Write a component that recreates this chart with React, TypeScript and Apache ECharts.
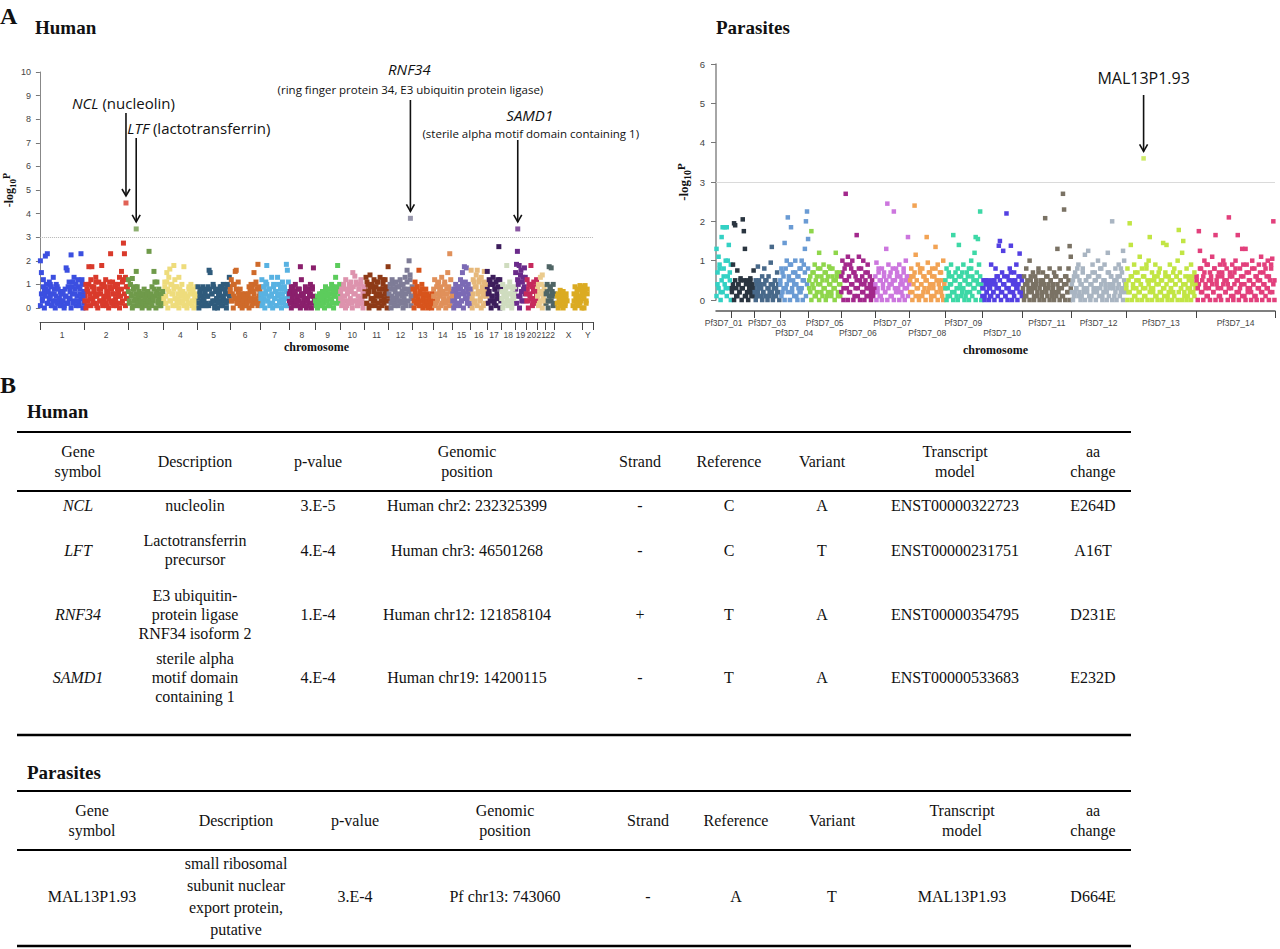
import React, { useEffect, useRef } from "react";
import * as echarts from "echarts";

// ---------------- Human Manhattan data ----------------
const humanChromosomes = ["1","2","3","4","5","6","7","8","9","10","11","12","13","14","15","16","17","18","19","20","21","22","X","Y"];
const humanLengthsMb = [249,243,198,191,181,171,159,146,141,136,135,134,115,107,103,90,81,78,59,63,48,51,155,59];
const humanColors = ["#3b4fe0","#d93a2b","#6f9a4a","#eedc7c","#2f5b7c","#cf6a2a","#58b2e2","#8a1f6c","#5ccc5c","#dd93ad","#8e3a16","#7e7c97","#d8541c","#e0905a","#7b6ab5","#e6b87a","#3d1d5c","#cfdcbf","#6b2b8b","#c62a5c","#ebcb8e","#4f6565","#dbab22","#dbab22"];

// SNPs in genomic order (upper part of each chromosome column)
const hChr1 = [2.0,1.5,0.4,1.2,0.7,2.2,1.0,2.3,0.2,1.1,0.5,0.9,0.1,1.3,0.6,0.3,1.0,0.2,0.8,0.4,0.1,0.6,0.3,0.7,0.1,0.5,1.7,1.6,0.2,1.1,0.4,2.25,0.9,0.2,1.3,0.6,1.0,0.3,1.2,0.1,0.8,2.3,1.2,0.5,0.2];
const hChr2 = [0.3,1.0,0.1,0.7,1.75,0.4,1.2,1.75,0.2,0.9,0.5,1.3,0.1,0.6,1.1,0.3,0.8,1.8,0.2,1.0,0.5,1.2,0.1,0.7,0.4,0.9,2.3,0.2,1.1,0.6,0.3,1.0,0.1,0.8,0.5,1.3,0.2,1.55,1.1,2.75,2.3,1.3,0.4,0.9];
const hChr3 = [1.2,0.3,1.0,0.6,1.25,0.1,0.8,0.4,1.55,0.9,0.2,0.5,0.1,0.3,0.6,0.2,0.8,0.4,0.1,0.7,0.3,2.4,0.5,0.2,0.9,0.4,1.55,1.1,0.6,1.1,0.3,0.8,0.1,0.5,0.2,0.7];
const hChr4 = [0.4,1.1,0.2,1.5,0.8,1.3,1.65,0.3,1.0,0.6,1.8,1.2,0.1,0.9,0.4,1.3,0.2,0.7,1.0,0.3,1.75,0.5,0.1,0.4,0.2,0.9,0.6,1.0,0.1,0.8,0.3,0.5,0.9,0.2];
const hChr5 = [0.9,0.2,0.6,0.1,0.8,0.4,0.3,0.7,0.1,0.5,0.9,1.6,1.5,0.2,0.6,1.0,0.3,0.1,0.8,0.4,0.2,0.6,0.9,0.1,0.5,1.0,0.3,0.7,0.2,1.0,0.6,1.3];
const hChr6 = [0.7,1.2,0.3,1.0,0.5,1.55,1.6,0.2,1.1,0.4,0.8,0.1,0.6,0.3,0.5,0.1,0.4,0.2,0.6,0.9,0.3,1.0,0.1,0.7,1.5,0.4,1.1,0.2,1.85,0.9,0.3];
const hChr7 = [0.4,1.2,0.2,0.9,0.6,1.1,1.8,0.3,0.8,0.1,0.5,1.3,0.2,1.0,0.4,0.7,0.1,1.3,0.6,0.2,0.9,0.4,1.1,0.3,0.8,0.1,1.85,1.6,0.5];
const hChr8 = [0.6,0.2,0.9,0.4,0.1,0.7,1.0,0.3,0.5,0.1,0.8,1.75,1.2,0.2,0.6,0.4,0.9,0.1,0.3,0.7,0.5,1.0,0.2,0.8,1.7,0.4];
const hChr9 = [0.3,0.1,0.5,0.2,0.6,0.1,0.4,0.7,0.2,0.5,0.9,0.3,0.6,0.1,0.8,0.4,1.0,0.2,0.7,0.5,1.3,0.9,1.8,0.3,1.0];
const hChr10 = [0.4,0.8,0.2,1.0,0.5,1.2,0.1,0.7,0.3,0.9,1.1,0.2,1.5,0.6,1.35,0.3,1.0,0.1,0.8,0.4,1.2,0.2,0.6,0.9];
const hChr11 = [0.5,1.3,0.2,1.0,0.7,1.4,0.1,0.9,0.4,1.2,0.3,0.6,1.1,0.2,0.8,1.3,0.5,0.1,1.0,0.4,1.2,0.7,0.3,1.75];
const hChr12 = [0.6,1.0,0.2,1.2,0.4,0.8,0.1,1.1,0.5,0.3,0.9,1.2,0.2,0.7,1.0,0.4,1.3,0.1,1.6,0.8,2.0,1.4,0.5,0.9];
const hChr13 = [0.8,0.3,1.1,0.5,0.9,0.2,1.6,0.7,0.1,1.0,0.4,0.6,0.2,0.8,0.3,0.5,0.1,0.4,0.2,0.6,0.3];
const hChr14 = [0.5,1.2,0.2,0.9,0.4,1.1,0.7,0.1,1.3,0.6,0.3,1.0,0.2,0.8,1.5,0.4,2.3,1.2,0.5];
const hChr15 = [0.3,0.8,0.1,1.0,0.5,0.2,0.9,0.6,1.2,0.3,1.5,0.7,1.75,1.1,1.7,0.4,1.0,0.2,0.8];
const hChr16 = [1.6,0.4,1.2,0.2,0.9,1.4,1.6,0.6,1.1,0.3,1.3,0.7,0.1,1.55,1.0,0.5];
const hChr17 = [1.55,0.6,1.2,0.3,1.0,0.5,1.3,0.2,0.8,1.1,0.4,0.9,2.6,1.2,0.3];
const hChr18 = [0.4,1.0,0.2,0.7,0.5,1.8,0.9,0.3,1.1,0.6,0.1,0.8,0.4,0.9];
const hChr19 = [1.5,1.85,2.4,1.0,1.8,0.5,1.6,0.3,1.3,0.8,1.7,0.6];
const hChr20 = [0.6,1.2,0.3,1.0,0.5,1.8,0.9,0.2,1.1,0.7,0.4,1.2];
const hChr21 = [0.5,1.0,0.2,1.3,0.7,1.4,0.4,0.9,0.3];
const hChr22 = [0.6,1.0,0.3,1.75,0.8,1.7,0.5,1.0,0.2];
const hChrX = [null,null,0.2,0.6,0.3,0.75,0.1,0.5,0.7,0.4,0.2,0.6,0.3,null,null,null,null,null,0.1,0.3,0.9,0.5,0.2,0.8,0.4,0.95,0.3,0.7];
const hChrY = [0.9,0.4,0.95,0.2,0.6,null,null,null,null,null];
const humanValues: (number | null)[][] = [hChr1,hChr2,hChr3,hChr4,hChr5,hChr6,hChr7,hChr8,hChr9,hChr10,hChr11,hChr12,hChr13,hChr14,hChr15,hChr16,hChr17,hChr18,hChr19,hChr20,hChr21,hChr22,hChrX,hChrY];

// further SNPs in genomic order (dense lower part of each column)
const hB1 = [0.1,0.6,0.3,0.9,0.0,0.5,0.8,0.2,0.7,0.4,1.0,0.1,0.6,0.3,0.8,0.0,0.5,0.9,0.2,0.4,0.7,0.1,0.6,0.3,0.0,0.8,0.5,0.2,0.9,0.4,0.7,0.0,0.6,1.1,0.3,0.8,0.1,0.5,0.9,0.2,0.6,0.4,1.0,0.0,0.7];
const hB2 = [0.5,0.0,0.8,0.3,1.0,0.6,0.1,0.9,0.4,0.7,0.2,1.1,0.5,0.0,0.8,0.3,0.6,1.0,0.1,0.4,0.9,0.2,0.7,0.5,0.0,1.1,0.3,0.8,0.6,0.1,0.9,0.4,0.2,1.0,0.7,0.0,0.5,0.8,0.3,1.2,0.6,0.1,0.9,0.4];
const hB3 = [0.7,0.2,1.0,0.5,0.0,0.8,0.3,0.9,0.6,0.1,0.4,0.7,0.2,0.5,0.0,0.6,0.3,0.1,0.5,0.2,0.7,0.0,0.4,0.6,0.1,0.3,0.8,0.5,0.0,0.7,0.2,0.4,0.6,0.1,0.3,0.5];
const hB4 = [0.2,0.9,0.5,1.1,0.0,0.7,0.3,1.0,0.6,0.1,0.8,0.4,0.9,0.2,0.6,0.0,0.8,0.5,0.3,0.7,0.1,0.6,0.4,0.0,0.5,0.8,0.2,0.6,0.3,0.7,0.0,0.4,0.6,0.1];
const hB5 = [0.4,0.0,0.7,0.3,0.5,0.9,0.1,0.6,0.2,0.8,0.5,0.1,0.8,0.2,0.6,0.3,0.9,0.0,0.7,0.4,0.0,0.5,0.7,0.3,0.9,0.1,0.4,0.8,0.6,0.0,0.3,0.9,0.5];
const hB6 = [0.9,0.3,0.6,0.0,1.0,0.4,0.8,0.2,0.7,0.5,0.1,0.3,0.0,0.4,0.2,0.6,0.1,0.3,0.5,0.0,0.7,0.4,0.9,0.2,0.6,1.0,0.3,0.8,0.1,0.5,0.7];
const hB7 = [0.6,0.1,0.9,0.4,0.0,0.7,1.0,0.3,0.5,0.8,0.2,0.6,0.0,0.9,0.4,0.7,0.1,0.5,1.0,0.3,0.8,0.0,0.6,0.2,0.9,0.4,0.7,0.1,1.1];
const hB8 = [0.3,0.7,0.0,0.5,0.9,0.2,0.6,0.1,0.4,0.8,0.3,0.0,0.6,0.5,0.1,0.3,0.7,0.0,0.4,0.8,0.2,0.6,0.0,0.9,0.5,0.3];
const hB9 = [0.2,0.4,0.0,0.3,0.5,0.1,0.6,0.2,0.4,0.0,0.7,0.3,0.5,0.8,0.1,0.6,0.3,0.9,0.0,0.5,0.7,0.2,0.8,0.4,0.6];
const hB10 = [0.7,0.1,0.5,0.9,0.3,0.0,0.8,0.6,0.2,1.0,0.4,0.7,0.0,0.9,0.3,0.6,1.1,0.1,0.5,0.8,0.2,1.0,0.4,0.0,0.7];
const hB11 = [0.8,0.2,1.1,0.6,0.0,0.9,0.4,1.0,0.3,0.7,0.1,0.9,0.5,1.1,0.0,0.6,0.3,0.8,1.2,0.2,0.6,0.9,0.0,0.5];
const hB12 = [0.3,0.8,0.0,0.5,1.0,0.2,0.7,0.4,0.9,0.1,0.6,0.3,1.0,0.5,0.0,0.8,0.2,0.6,1.1,0.3,0.7,1.2,0.1,0.4];
const hB13 = [0.5,0.0,0.7,0.2,0.9,0.4,0.1,0.6,0.3,0.8,0.0,0.5,0.3,0.1,0.6,0.0,0.3,0.2,0.4,0.0,0.2];
const hB14 = [0.8,0.1,0.6,0.3,1.0,0.0,0.5,0.9,0.2,0.7,0.4,1.1,0.0,0.6,0.3,0.9,0.1,0.7,0.3];
const hB15 = [0.6,0.0,0.4,0.7,0.2,0.9,0.5,0.1,0.8,0.3,1.0,0.0,0.6,0.4,0.9,0.2,0.7,0.5,0.1];
const hB16 = [0.8,0.0,0.6,1.1,0.3,0.9,0.1,0.7,1.2,0.4,0.0,0.9,0.5,1.1,0.2,0.7];
const hB17 = [0.9,0.2,0.7,1.1,0.0,0.5,1.0,0.3,0.8,0.1,0.6,1.2,0.4,0.0,0.8];
const hB18 = [0.7,0.0,0.5,0.2,0.8,0.4,0.1,0.6,0.3,0.9,0.0,0.5,0.2,0.6];
const hB19 = [0.8,0.2,1.2,0.5,0.0,1.4,0.7,1.1,0.3,0.9,1.3];
const hB20 = [0.3,0.8,0.0,0.6,1.0,0.4,0.1,0.7,0.9,0.2,0.5];
const hB21 = [0.8,0.1,0.6,0.3,1.0,0.0,0.5,0.7,0.2];
const hB22 = [0.2,0.7,0.0,0.5,0.9,0.3,0.7,0.1,0.6];
const hBX = [null,null,0.5,0.0,0.4,0.2,0.6,0.3,0.0,0.5,0.1,0.4,null,null,null,null,null,null,null,0.6,0.0,0.4,0.7,0.1,0.5,0.2,0.8,0.0];
const hBY = [0.5,0.0,0.7,0.3,0.8,null,null,null,null,null];
const humanBulkValues: (number | null)[][] = [hB1,hB2,hB3,hB4,hB5,hB6,hB7,hB8,hB9,hB10,hB11,hB12,hB13,hB14,hB15,hB16,hB17,hB18,hB19,hB20,hB21,hB22,hBX,hBY];

const humanHitGenes = ["NCL","LTF","RNF34","SAMD1"];
const humanHitChromIndex = [1, 2, 11, 18];
const humanHitPosMb = [232.3, 46.5, 121.9, 14.2];
const humanHitValues = [4.45, 3.35, 3.8, 3.35];

// ---------------- Parasite Manhattan data ----------------
const parasiteChromosomes = ["Pf3D7_01","Pf3D7_02","Pf3D7_03","Pf3D7_04","Pf3D7_05","Pf3D7_06","Pf3D7_07","Pf3D7_08","Pf3D7_09","Pf3D7_10","Pf3D7_11","Pf3D7_12","Pf3D7_13","Pf3D7_14"];
const parasiteLengthsMb = [0.64,0.95,1.07,1.2,1.34,1.42,1.45,1.47,1.54,1.69,2.04,2.27,2.93,3.29];
const parasiteColors = ["#33d1c4","#2a3540","#48698a","#6a9bd4","#8fd64b","#a3288c","#cc76de","#f2a354","#3dd8a6","#5340e2","#7a7264","#a9b5c2","#c2e544","#e2407c"];

const pChr1 = [1.3,0.4,1.1,0.8,0.2,1.6,1.85,0.6,1.85,0.3,1.85,1.0,1.4,0.5,0.9];
const pChr2 = [0.3,0.9,1.95,1.9,0.1,0.75,0.4,0.2,0.55,0.3,2.05,1.75,1.3,0.1,0.5,0.2,0.4,0.55,0.1,0.3,0.75];
const pChr3 = [0.2,0.5,0.1,0.85,0.3,0.4,0.1,0.6,0.2,0.8,0.5,0.1,0.3,0.6,0.2,0.95,1.35,0.4,0.1,0.5,0.3,0.7,0.2,0.4];
const pChr4 = [0.4,0.8,0.2,0.6,1.45,0.3,1.0,2.1,0.5,0.9,1.85,0.2,0.7,0.4,1.0,0.1,0.6,0.3,0.8,0.2,1.0,0.5,0.9,1.3,2.0,2.25,1.55];
const pChr5 = [0.5,0.2,1.75,0.7,0.3,0.9,0.1,0.6,0.4,1.2,0.8,0.2,0.5,0.9,0.3,0.7,0.1,0.6,0.85,0.4,0.2,0.8,0.5,0.3,1.2,0.6,0.1,0.7,0.4];
const pChr6 = [0.6,1.0,0.3,0.8,2.7,0.5,1.1,0.2,0.9,0.4,1.0,0.7,0.1,0.6,1.65,0.3,1.1,0.5,0.8,0.2,1.0,0.4,0.7,0.1,0.9,0.3,0.6,0.2,0.5,0.4,0.3];
const pChr7 = [0.4,0.95,0.2,0.7,0.5,0.1,0.8,0.3,0.6,0.2,1.3,2.45,0.9,0.4,0.7,0.1,0.5,2.25,0.3,0.8,0.6,0.2,0.9,0.4,0.5,0.1,0.7,0.3,1.0,0.6,1.6,0.4];
const pChr8 = [0.5,0.8,0.2,0.6,2.4,1.15,0.3,0.9,0.1,0.7,0.4,0.8,0.2,0.6,0.5,1.6,0.95,0.3,0.7,0.1,0.8,0.4,0.6,1.35,0.2,0.9,0.5,0.3,0.7,0.1,1.0,0.4];
const pChr9 = [0.3,0.8,0.1,0.6,0.4,0.9,0.2,1.65,0.5,0.7,0.1,0.8,1.4,0.3,0.6,0.2,0.9,0.5,0.1,0.7,0.4,0.8,0.2,1.0,0.6,0.3,1.2,1.6,0.5,1.55,0.9,2.25,0.4];
const pChr10 = [0.3,0.5,0.1,0.4,0.2,0.5,0.3,0.1,0.9,0.4,0.2,0.5,0.8,0.3,0.6,1.38,1.5,0.2,0.7,1.25,0.4,0.1,2.2,0.6,0.3,0.8,1.38,0.5,0.2,0.7,0.4,0.9,0.3,0.6,1.18,0.2,0.5];
const pChr11 = [0.3,0.6,0.1,0.8,0.4,0.2,1.0,0.5,0.3,0.7,0.1,0.6,0.4,0.2,0.8,0.3,0.5,0.1,0.7,0.4,2.08,0.2,0.6,0.3,0.8,0.5,0.1,0.4,0.7,0.2,0.6,1.3,0.3,0.8,0.5,0.1,2.7,2.3,0.6,0.4,0.2,0.8,1.37,1.1];
const pChr12 = [0.2,0.5,0.1,0.7,0.3,0.6,0.9,0.2,0.4,0.1,0.8,0.3,1.15,0.5,0.2,1.25,0.6,0.4,0.1,0.9,0.3,0.7,0.5,0.2,1.0,0.6,0.3,0.8,0.1,0.5,0.9,0.4,0.2,1.2,0.7,0.3,0.6,2.0,0.4,0.1,0.8,0.5,0.3,0.9,0.6,0.2,0.7,1.25,1.0,0.4];
const pChr13 = [0.4,0.8,0.2,1.95,1.4,0.6,0.3,0.9,0.1,0.5,0.7,0.2,1.1,0.4,0.8,0.3,0.6,0.1,0.9,0.5,1.0,1.6,0.3,0.7,0.2,0.5,0.9,0.1,0.6,0.4,0.8,0.2,0.5,1.45,0.3,0.7,1.4,0.1,0.6,0.9,0.3,0.5,0.2,0.8,0.4,0.6,1.0,1.78,0.7,0.3,1.2,1.5,0.2,0.4,0.8,0.1,0.6,0.3,0.9,0.5,0.2,0.7,0.4];
const pChr14 = [0.5,0.3,1.75,1.25,0.8,0.2,0.6,1.0,0.4,0.1,0.9,0.3,0.7,0.5,1.1,0.2,0.8,1.65,0.4,0.6,0.1,0.9,0.3,0.7,1.0,0.5,0.2,0.8,0.4,2.1,0.6,0.3,0.9,0.1,0.7,1.0,0.5,1.65,0.2,0.8,0.4,1.3,0.6,0.1,1.3,0.9,0.3,0.7,0.5,0.2,1.0,0.4,0.8,0.1,0.6,0.3,0.9,0.5,1.1,0.2,0.7,0.4,0.8,0.3,1.0,0.6,0.2,0.9,1.05,2.0,0.5];
const parasiteValues: (number | null)[][] = [pChr1,pChr2,pChr3,pChr4,pChr5,pChr6,pChr7,pChr8,pChr9,pChr10,pChr11,pChr12,pChr13,pChr14];

const pB1 = [0.1,0.7,0.3,0.9,0.0,0.5,0.2,0.8,0.4,1.0,0.1,0.6,0.3,0.7,0.0];
const pB2 = [0.2,0.4,0.0,0.5,0.3,0.1,0.4,0.2,0.5,0.0,0.3,0.5,0.1,0.4,0.2,0.0,0.3,0.5,0.2,0.4,0.1];
const pB3 = [0.3,0.0,0.4,0.2,0.5,0.1,0.3,0.0,0.2,0.4,0.1,0.5,0.0,0.3,0.1,0.4,0.2,0.0,0.3,0.5,0.1,0.2,0.4,0.0];
const pB4 = [0.5,0.1,0.7,0.3,0.0,0.8,0.4,0.2,0.6,0.0,0.9,0.3,0.5,0.1,0.7,0.4,0.0,0.6,0.2,0.8,0.3,0.0,0.5,0.7,0.1,0.4,0.8];
const pB5 = [0.3,0.6,0.0,0.4,0.7,0.1,0.5,0.2,0.8,0.0,0.4,0.6,0.1,0.3,0.7,0.0,0.5,0.2,0.4,0.8,0.1,0.6,0.3,0.0,0.5,0.7,0.2,0.4,0.1];
const pB6 = [0.2,0.7,0.0,0.5,0.9,0.3,0.0,0.6,0.2,0.8,0.4,0.0,0.7,0.3,0.5,0.1,0.8,0.0,0.4,0.6,0.2,0.0,0.5,0.3,0.7,0.1,0.4,0.0,0.3,0.1,0.2];
const pB7 = [0.6,0.0,0.3,0.8,0.1,0.5,0.0,0.4,0.7,0.2,0.5,0.0,0.3,0.6,0.1,0.4,0.8,0.0,0.5,0.2,0.7,0.3,0.0,0.6,0.2,0.4,0.8,0.0,0.5,0.3,0.1,0.6];
const pB8 = [0.2,0.6,0.0,0.4,0.7,0.1,0.5,0.3,0.0,0.8,0.4,0.1,0.6,0.3,0.0,0.5,0.2,0.7,0.4,0.0,0.6,0.3,0.1,0.8,0.5,0.0,0.4,0.7,0.2,0.5,0.0,0.3];
const pB9 = [0.5,0.0,0.3,0.7,0.1,0.4,0.6,0.0,0.2,0.5,0.3,0.0,0.6,0.4,0.1,0.7,0.3,0.0,0.5,0.2,0.6,0.0,0.4,0.8,0.1,0.5,0.3,0.0,0.7,0.4,0.2,0.6,0.0];
const pB10 = [0.1,0.3,0.0,0.5,0.2,0.4,0.0,0.3,0.1,0.5,0.2,0.0,0.4,0.6,0.1,0.3,0.5,0.0,0.2,0.4,0.6,0.1,0.3,0.0,0.5,0.2,0.7,0.0,0.4,0.1,0.5,0.3,0.0,0.4,0.2,0.6,0.1];
const pB11 = [0.2,0.0,0.4,0.1,0.5,0.3,0.0,0.6,0.2,0.4,0.0,0.3,0.5,0.1,0.7,0.0,0.4,0.2,0.5,0.0,0.3,0.6,0.1,0.4,0.0,0.5,0.2,0.3,0.0,0.6,0.1,0.4,0.2,0.0,0.5,0.3,0.1,0.4,0.0,0.6,0.2,0.5,0.0,0.3];
const pB12 = [0.4,0.0,0.6,0.2,0.3,0.8,0.1,0.5,0.0,0.4,0.7,0.2,0.0,0.5,0.3,0.6,0.1,0.0,0.4,0.7,0.2,0.5,0.0,0.3,0.6,0.1,0.8,0.4,0.0,0.2,0.5,0.3,0.0,0.7,0.1,0.4,0.6,0.0,0.3,0.5,0.2,0.0,0.6,0.4,0.1,0.8,0.3,0.0,0.5,0.2];
const pB13 = [0.3,0.0,0.5,0.2,0.6,0.0,0.4,0.1,0.7,0.3,0.0,0.5,0.2,0.4,0.0,0.6,0.1,0.3,0.8,0.0,0.4,0.2,0.5,0.0,0.3,0.6,0.1,0.4,0.0,0.7,0.2,0.5,0.0,0.3,0.1,0.6,0.4,0.0,0.2,0.5,0.3,0.0,0.7,0.1,0.4,0.6,0.0,0.2,0.5,0.3,0.0,0.4,0.1,0.6,0.0,0.3,0.5,0.2,0.0,0.4,0.6,0.1,0.3];
const pB14 = [0.6,0.0,0.4,0.8,0.2,0.5,0.0,0.7,0.3,0.9,0.1,0.5,0.0,0.6,0.4,0.2,0.8,0.0,0.5,0.3,0.7,0.1,0.0,0.6,0.4,0.9,0.2,0.5,0.0,0.3,0.7,0.1,0.6,0.0,0.4,0.8,0.2,0.5,0.0,0.3,0.6,0.1,0.9,0.4,0.0,0.7,0.2,0.5,0.3,0.0,0.8,0.4,0.1,0.6,0.0,0.5,0.3,0.7,0.2,0.0,0.4,0.9,0.1,0.6,0.3,0.0,0.5,0.8,0.2,0.4,0.0];
const parasiteBulkValues: (number | null)[][] = [pB1,pB2,pB3,pB4,pB5,pB6,pB7,pB8,pB9,pB10,pB11,pB12,pB13,pB14];

const parasiteHitGenes = ["MAL13P1.93"];
const parasiteHitChromIndex = [12];
const parasiteHitPosMb = [0.743];
const parasiteHitValues = [3.6];

const significanceThreshold = 3;

// ---------------- Tables ----------------
const tableHeader = ["Gene\nsymbol","Description","p-value","Genomic\nposition","Strand","Reference","Variant","Transcript\nmodel","aa\nchange"];
const humanTableRows = [
  ["NCL","nucleolin","3.E-5","Human chr2: 232325399","-","C","A","ENST00000322723","E264D"],
  ["LFT","Lactotransferrin\nprecursor","4.E-4","Human chr3: 46501268","-","C","T","ENST00000231751","A16T"],
  ["RNF34","E3 ubiquitin-\nprotein ligase\nRNF34 isoform 2","1.E-4","Human chr12: 121858104","+","T","A","ENST00000354795","D231E"],
  ["SAMD1","sterile alpha\nmotif domain\ncontaining 1","4.E-4","Human chr19: 14200115","-","T","A","ENST00000533683","E232D"],
];
const parasiteTableRows = [
  ["MAL13P1.93","small ribosomal\nsubunit nuclear\nexport protein,\nputative","3.E-4","Pf chr13: 743060","-","A","T","MAL13P1.93","D664E"],
];

// ---------------- Layout / style ----------------
const SERIF = '"Liberation Serif", "Times New Roman", serif';
const SANS = '"Liberation Sans", Arial, sans-serif';
const ANNOT = '"Open Sans", sans-serif';

function starts(lengths: number[]) {
  const s: number[] = [];
  let acc = 0;
  lengths.forEach((l) => { s.push(acc); acc += l; });
  return s;
}
function total(lengths: number[]) { return lengths.reduce((a, b) => a + b, 0); }

function manhattanSeries(lengths: number[], values: (number | null)[][], colors: string[], gi: number, size: number) {
  const st = starts(lengths);
  return lengths.map((len, ci) => {
    const vals = values[ci];
    const n = vals.length;
    const data: number[][] = [];
    vals.forEach((v, i) => { if (v !== null) data.push([st[ci] + ((i + 0.5) / n) * len, v]); });
    return {
      type: "scatter", xAxisIndex: gi, yAxisIndex: gi, data, symbol: "rect", symbolSize: size,
      itemStyle: { color: colors[ci], opacity: 1 }, silent: true, z: 2,
    } as any;
  });
}

function hitSeries(lengths: number[], chromIdx: number[], pos: number[], vals: number[], colors: string[], gi: number, size: number) {
  const st = starts(lengths);
  return {
    type: "scatter", xAxisIndex: gi, yAxisIndex: gi, symbol: "rect", symbolSize: size, silent: true, z: 3,
    data: chromIdx.map((c, i) => ({ value: [st[c] + pos[i], vals[i]], itemStyle: { color: colors[c] } })),
  } as any;
}

function txt(x: number, y: number, text: string, o: any = {}) {
  const align = o.align || "center";
  const va = o.va || "middle";
  return {
    type: "text", x, y, silent: true, z: 100,
    style: {
      text, fill: o.color || "#111",
      fontSize: o.size || 16, fontFamily: o.family || SERIF,
      fontWeight: o.weight || "normal", fontStyle: o.style || "normal",
      align, verticalAlign: va, textAlign: align, textVerticalAlign: va,
      lineHeight: o.lineHeight || 19, rich: o.rich,
    },
  };
}
function hline(x1: number, x2: number, y: number, w: number) {
  return { type: "line", silent: true, z: 100, shape: { x1, y1: y, x2, y2: y }, style: { stroke: "#000", lineWidth: w } };
}
function arrow(x: number, yTop: number, yTip: number) {
  return [
    { type: "line", silent: true, z: 100, shape: { x1: x, y1: yTop, x2: x, y2: yTip }, style: { stroke: "#111", lineWidth: 1.6 } },
    { type: "polyline", silent: true, z: 100, shape: { points: [[x - 4, yTip - 7], [x, yTip], [x + 4, yTip - 7]] }, style: { stroke: "#111", lineWidth: 1.6, fill: "none" } },
  ];
}

function tableGraphics(rows: string[][], colX: number[], top: number, headBottom: number, bottom: number, rowY: number[], italicFirst: boolean, rowLineHeight: number) {
  const els: any[] = [];
  els.push(hline(17, 1131, top, 2.2));
  els.push(hline(17, 1131, headBottom, 2.2));
  els.push(hline(17, 1131, bottom, 2.6));
  const headMid = (top + headBottom) / 2;
  tableHeader.forEach((h, i) => els.push(txt(colX[i], headMid, h, { lineHeight: 20 })));
  rows.forEach((r, ri) => {
    r.forEach((cell, ci) => {
      els.push(txt(colX[ci], rowY[ri], cell, { style: italicFirst && ci === 0 ? "italic" : "normal", lineHeight: rowLineHeight }));
    });
  });
  return els;
}

function yName(size: number) {
  return {
    name: "{a|-log}{b|10}{c|P}",
    nameLocation: "middle",
    nameTextStyle: {
      rich: {
        a: { fontFamily: SERIF, fontWeight: "bold", fontSize: size, color: "#111" },
        b: { fontFamily: SERIF, fontWeight: "bold", fontSize: size - 3, color: "#111", padding: [7, 0, 0, 0] },
        c: { fontFamily: SERIF, fontWeight: "bold", fontSize: size - 2, color: "#111", padding: [0, 0, 6, 0] },
      },
    },
  };
}

export default function App() {
  const ref = useRef<HTMLDivElement>(null);
  useEffect(() => {
    if (!ref.current) return;
    const chart = echarts.init(ref.current, undefined, { renderer: "svg" });

    const hStarts = starts(humanLengthsMb);
    const hTotal = total(humanLengthsMb);
    const hBounds = [...hStarts, hTotal];
    const hCenters = humanLengthsMb.map((l, i) => hStarts[i] + l / 2);

    const pStarts = starts(parasiteLengthsMb);
    const pTotal = total(parasiteLengthsMb);
    const pBounds = [...pStarts.slice(1), pTotal];
    const pCenters = parasiteLengthsMb.map((l, i) => pStarts[i] + l / 2);

    const nearest = (centers: number[], v: number) => {
      let b = 0;
      centers.forEach((c, i) => { if (Math.abs(c - v) < Math.abs(centers[b] - v)) b = i; });
      return b;
    };

    const option: any = {
      animation: false,
      backgroundColor: "#ffffff",
      textStyle: { fontFamily: SANS },
      grid: [
        { left: 36, top: 72, width: 557, height: 236 },
        { left: 716, top: 64, width: 559, height: 236 },
      ],
      xAxis: [
        {
          gridIndex: 0, type: "value", min: 0, max: hTotal, offset: 14,
          axisLine: { show: true, onZero: false, lineStyle: { color: "#555", width: 1 } },
          axisTick: { show: true, customValues: hBounds, length: 8, lineStyle: { color: "#444" } },
          axisLabel: { customValues: hCenters, formatter: (v: number) => humanChromosomes[nearest(hCenters, v)], fontSize: 8.5, color: "#444", margin: 8, showMinLabel: true, showMaxLabel: true },
          splitLine: { show: false },
          name: "chromosome", nameLocation: "middle", nameGap: 19,
          nameTextStyle: { fontFamily: SERIF, fontWeight: "bold", fontSize: 12, color: "#111" },
        },
        {
          gridIndex: 1, type: "value", min: 0, max: pTotal, offset: 11,
          axisLine: { show: true, onZero: false, lineStyle: { color: "#555", width: 1.5 } },
          axisTick: { show: true, customValues: pBounds, length: 7, lineStyle: { color: "#444" } },
          axisLabel: {
            customValues: pCenters,
            formatter: (v: number) => { const i = nearest(pCenters, v); return i % 2 === 1 && i < 10 ? "\n" + parasiteChromosomes[i] : parasiteChromosomes[i]; },
            fontSize: 8.5, color: "#444", margin: 7, lineHeight: 10, showMinLabel: true, showMaxLabel: true,
          },
          splitLine: { show: false },
          name: "chromosome", nameLocation: "middle", nameGap: 33,
          nameTextStyle: { fontFamily: SERIF, fontWeight: "bold", fontSize: 12, color: "#111" },
        },
      ],
      yAxis: [
        {
          gridIndex: 0, type: "value", min: 0, max: 10, interval: 1,
          axisLine: { show: true, lineStyle: { color: "#888" } },
          axisTick: { show: true, length: 4, lineStyle: { color: "#777" } },
          axisLabel: { fontSize: 9, color: "#444", margin: 9 },
          splitLine: { show: false },
          ...yName(12), nameGap: 21,
        },
        {
          gridIndex: 1, type: "value", min: 0, max: 6, interval: 1,
          axisLine: { show: true, lineStyle: { color: "#888", width: 1.5 } },
          axisTick: { show: true, length: 5, lineStyle: { color: "#777" } },
          axisLabel: { fontSize: 9.5, color: "#444", margin: 11 },
          splitLine: { show: false },
          ...yName(13), nameGap: 24,
        },
      ],
      series: [
        ...manhattanSeries(humanLengthsMb, humanBulkValues, humanColors, 0, 5),
        ...manhattanSeries(humanLengthsMb, humanValues, humanColors, 0, 5),
        hitSeries(humanLengthsMb, humanHitChromIndex, humanHitPosMb, humanHitValues, humanColors, 0, 5),
        {
          type: "scatter", xAxisIndex: 0, yAxisIndex: 0, data: [], silent: true,
          markLine: { silent: true, symbol: "none", label: { show: false }, lineStyle: { type: "dotted", color: "#b5b5b5", width: 1 }, data: [{ yAxis: significanceThreshold }] },
        },
        ...manhattanSeries(parasiteLengthsMb, parasiteBulkValues, parasiteColors, 1, 4.5),
        ...manhattanSeries(parasiteLengthsMb, parasiteValues, parasiteColors, 1, 4.5),
        hitSeries(parasiteLengthsMb, parasiteHitChromIndex, parasiteHitPosMb, parasiteHitValues, parasiteColors, 1, 4.5),
        {
          type: "scatter", xAxisIndex: 1, yAxisIndex: 1, data: [], silent: true,
          markLine: { silent: true, symbol: "none", label: { show: false }, lineStyle: { type: "solid", color: "#dadada", width: 1 }, data: [{ yAxis: significanceThreshold }] },
        },
      ],
    };
    chart.setOption(option);

    // ---- annotations anchored on the hits ----
    const g: any[] = [];
    const toPx = (gi: number, x: number, y: number) => chart.convertToPixel({ gridIndex: gi } as any, [x, y]) as number[];
    const italicRich = (size: number) => ({ i: { fontStyle: "italic", fontSize: size, fontFamily: ANNOT, fill: "#111" } });

    const hp = humanHitChromIndex.map((c, i) => toPx(0, hStarts[c] + humanHitPosMb[i], humanHitValues[i]));
    g.push(txt(hp[0][0] - 54, 103, "{i|" + humanHitGenes[0] + "} (nucleolin)", { align: "left", family: ANNOT, size: 15, rich: italicRich(15) }));
    g.push(...arrow(hp[0][0], 113, hp[0][1] - 7));
    g.push(txt(hp[1][0] - 9, 128, "{i|" + humanHitGenes[1] + "} (lactotransferrin)", { align: "left", family: ANNOT, size: 15, rich: italicRich(15) }));
    g.push(...arrow(hp[1][0], 138, hp[1][1] - 7));
    g.push(txt(hp[2][0] - 1, 69, "{i|" + humanHitGenes[2] + "}", { family: ANNOT, size: 15, rich: italicRich(15) }));
    g.push(txt(hp[2][0], 89, "(ring finger protein 34, E3 ubiquitin protein ligase)", { family: ANNOT, size: 11.5 }));
    g.push(...arrow(hp[2][0], 100, hp[2][1] - 7));
    g.push(txt(hp[3][0] + 12, 115, "{i|" + humanHitGenes[3] + "}", { family: ANNOT, size: 15, rich: italicRich(15) }));
    g.push(txt(hp[3][0] + 13, 133, "(sterile alpha motif domain containing 1)", { family: ANNOT, size: 11.5 }));
    g.push(...arrow(hp[3][0], 140, hp[3][1] - 7));
    const pp = parasiteHitChromIndex.map((c, i) => toPx(1, pStarts[c] + parasiteHitPosMb[i], parasiteHitValues[i]));
    g.push(txt(pp[0][0], 78, parasiteHitGenes[0], { family: ANNOT, size: 16 }));
    g.push(...arrow(pp[0][0], 95, pp[0][1] - 7));

    // ---- panel titles ----
    g.push(txt(0, 16, "A", { align: "left", weight: "bold", size: 24 }));
    g.push(txt(35, 27, "Human", { align: "left", weight: "bold", size: 19 }));
    g.push(txt(716, 27, "Parasites", { align: "left", weight: "bold", size: 19 }));
    g.push(txt(0, 385, "B", { align: "left", weight: "bold", size: 24 }));
    g.push(txt(27, 411, "Human", { align: "left", weight: "bold", size: 19 }));
    g.push(txt(27, 772, "Parasites", { align: "left", weight: "bold", size: 19 }));

    // ---- tables ----
    g.push(...tableGraphics(humanTableRows, [78, 195, 318, 467, 640, 729, 822, 955, 1093], 432, 491, 735, [505, 550, 614, 677], true, 19));
    g.push(...tableGraphics(parasiteTableRows, [92, 236, 355, 505, 648, 736, 832, 962, 1093], 791, 850, 946, [896], false, 22));

    chart.setOption({ graphic: g });

    return () => chart.dispose();
  }, []);

  return <div ref={ref} style={{ position: "absolute", left: 0, top: 0, width: 1280, height: 949, background: "#fff" }} />;
}
